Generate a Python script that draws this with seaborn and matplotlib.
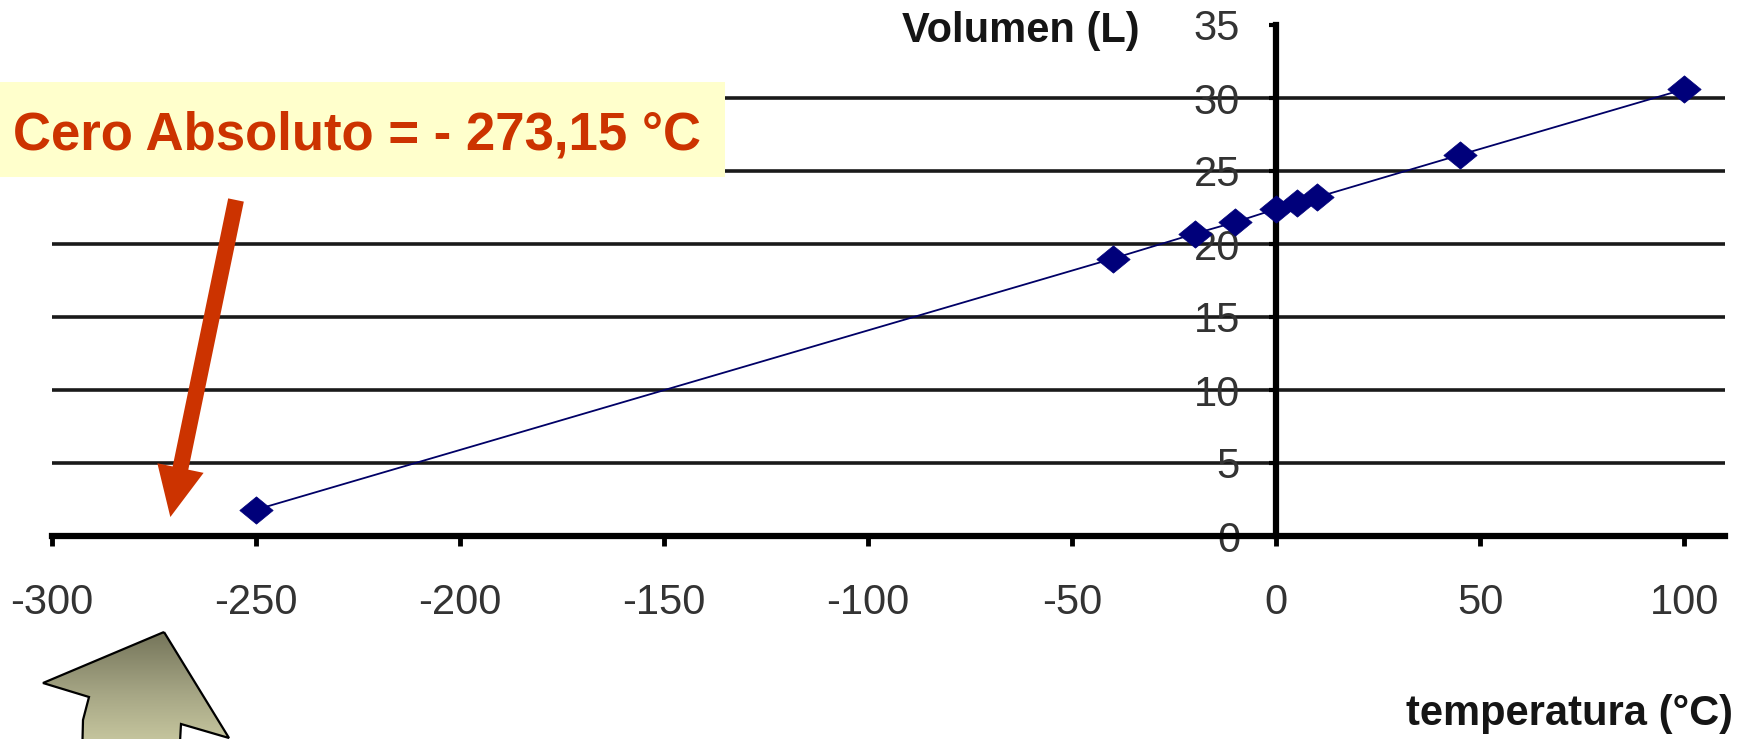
import numpy as np
import pandas as pd
import matplotlib
matplotlib.use('Agg')
import matplotlib.pyplot as plt
import seaborn as sns
from matplotlib.patches import Polygon, Rectangle
from matplotlib.path import Path
from matplotlib.colors import LinearSegmentedColormap

# ---- data ----
temperatura = [-250, -40, -20, -10, 0, 5, 10, 45, 100]
volumen = [1.8, 19.0, 20.7, 21.5, 22.4, 22.8, 23.2, 26.1, 30.6]
x_ticks = [-300, -250, -200, -150, -100, -50, 0, 50, 100]
y_ticks = [0, 5, 10, 15, 20, 25, 30, 35]
x_label = 'temperatura (°C)'
y_label = 'Volumen (L)'
note = 'Cero Absoluto = - 273,15 °C'
arrow_target = (-271, 1.3)

sns.set_style('white')
plt.rcParams['font.family'] = ['Liberation Sans', 'DejaVu Sans']
plt.rcParams['axes.unicode_minus'] = False

W, H = 1754, 739
fig = plt.figure(figsize=(W / 100, H / 100), dpi=100)
fig.patch.set_facecolor('white')
ax = fig.add_axes([52 / W, 1 - 536 / H, 1673 / W, 511 / H])

df = pd.DataFrame({'t': temperatura, 'v': volumen})
diamond = Path([(-1, 0), (0, 0.82), (1, 0), (0, -0.82), (-1, 0)],
               [Path.MOVETO, Path.LINETO, Path.LINETO, Path.LINETO, Path.CLOSEPOLY])
sns.lineplot(data=df, x='t', y='v', ax=ax, sort=False, color='#000066', lw=1.3,
             marker=diamond, markersize=24, markerfacecolor='#00007A',
             markeredgecolor='#00007A', markeredgewidth=0.5, zorder=4)
ax.set_xlabel('')
ax.set_ylabel('')

ax.set_xlim(-300, 110)
ax.set_ylim(0, 35)
ax.set_xticks(x_ticks)
ax.set_yticks(y_ticks)
ax.set_xticklabels([str(v) for v in x_ticks])
ax.set_yticklabels([str(v) for v in y_ticks])

for s in ['top', 'right']:
    ax.spines[s].set_visible(False)
ax.spines['left'].set_position(('data', 0))
for s in ['left', 'bottom']:
    ax.spines[s].set_linewidth(4.5)
    ax.spines[s].set_color('black')
    ax.spines[s].set_zorder(3)

ax.tick_params(axis='x', bottom=True, direction='out', length=7, width=3.5,
               pad=27, labelsize=30, labelcolor='#333333', color='black')
ax.tick_params(axis='y', left=True, direction='out', length=5, width=3,
               pad=21, labelsize=30, labelcolor='#333333', color='black')

ax.yaxis.grid(True, color='#1a1a1a', lw=2.6)
ax.xaxis.grid(False)
ax.set_axisbelow(True)
for v, gl in zip(y_ticks, ax.get_ygridlines()):
    if v in (0, 35):
        gl.set_visible(False)

# axis titles
fig.text(1140 / W, 1 - 31 / H, y_label, ha='right', va='center',
         fontsize=30, fontweight='bold', color='#151515')
fig.text(1733 / W, 1 - 714 / H, x_label, ha='right', va='center',
         fontsize=30, fontweight='bold', color='#151515')

# red arrow pointing to absolute zero
ax.annotate('', xy=arrow_target, xycoords='data',
            xytext=(236 / W, 1 - 200 / H), textcoords='figure fraction',
            arrowprops=dict(arrowstyle='simple,head_length=3.6,head_width=3.4,tail_width=1.15',
                            mutation_scale=10, fc='#CC3300', ec='none',
                            shrinkA=0, shrinkB=0),
            annotation_clip=False, zorder=6)

# overlay for decorations
ov = fig.add_axes([0, 0, 1, 1], zorder=10)
ov.patch.set_alpha(0)

ov.add_patch(Rectangle((0, 82), 725, 95, facecolor='#FFFFCC', edgecolor='none', zorder=1))
ov.text(357, 149, note, ha='center', va='baseline', fontsize=38,
        fontweight='bold', color='#CC3300', zorder=2)

# big block arrow with gradient
verts = [(164, 632), (229, 738), (181, 724), (179, 760), (82, 760),
         (83, 720), (89, 697), (43, 683)]
poly = Polygon(verts, closed=True, fc='none', ec='black', lw=1.6, zorder=4)
ov.add_patch(poly)
grad = np.linspace(0, 1, 256).reshape(-1, 1)
cmap = LinearSegmentedColormap.from_list('olive', ['#6F6F55', '#A5A584', '#D2D2A8'])
img = ov.imshow(grad, extent=(30, 245, 625, 760), origin='lower', cmap=cmap,
                aspect='auto', zorder=3)
img.set_clip_path(poly)

ov.set_xlim(0, W)
ov.set_ylim(H, 0)
ov.axis('off')

fig.savefig('out.png', dpi=100, facecolor='white')
